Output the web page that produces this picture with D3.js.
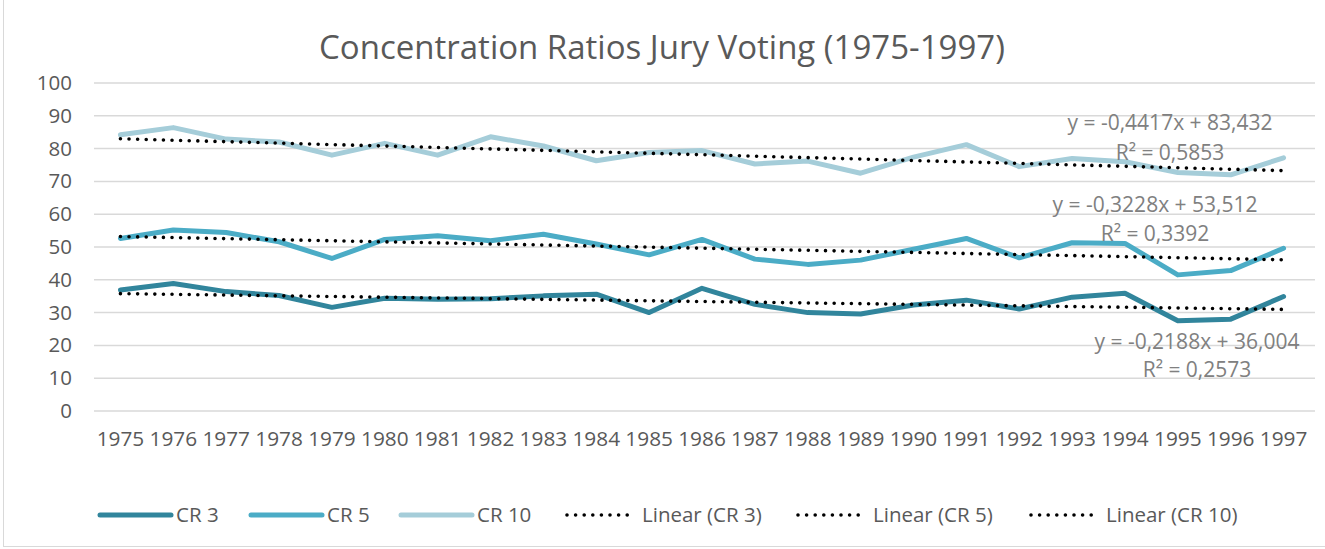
<!DOCTYPE html>
<html>
<head>
<meta charset="utf-8">
<script src="https://cdn.jsdelivr.net/npm/d3@7"></script>
<style>
  body { margin: 0; background: #fff; }
  text { font-family: "Open Sans", "Noto Sans", sans-serif; }
</style>
</head>
<body>
<svg id="chart" width="1325" height="549"></svg>
<script>
// values
var years = d3.range(1975, 1998).map(String);
var cr3 = [36.9, 38.9, 36.4, 35.2, 31.6, 34.4, 34.1, 34.2, 35.1, 35.6, 30.0, 37.4, 32.5, 30.0, 29.6, 32.3, 33.8, 31.1, 34.7, 35.9, 27.5, 28.0, 34.9];
var cr5 = [52.6, 55.2, 54.4, 51.6, 46.5, 52.3, 53.4, 51.9, 53.9, 50.9, 47.6, 52.3, 46.3, 44.7, 46.0, 49.3, 52.6, 46.7, 51.3, 51.1, 41.5, 42.8, 49.6];
var cr10 = [84.2, 86.4, 82.9, 82.0, 78.0, 81.6, 78.0, 83.6, 80.8, 76.3, 78.8, 79.4, 75.3, 76.2, 72.5, 77.4, 81.2, 74.5, 77.0, 76.0, 72.7, 72.0, 77.2];

// linear trend lines as printed on the chart (x = 1..23)
var seriesNames = ["CR 3", "CR 5", "CR 10"];
var slopes = [-0.2188, -0.3228, -0.4417];
var intercepts = [36.004, 53.512, 83.432];
var rSquared = [0.2573, 0.3392, 0.5853];
var yTicks = [0, 10, 20, 30, 40, 50, 60, 70, 80, 90, 100];

var colors = ["#31859c", "#4bacc6", "#a5cdd9"];

var svg = d3.select("#chart");

var plotLeft = 94, plotRight = 1310, plotTop = 83, plotBottom = 411;

var x = d3.scaleBand().domain(years).range([plotLeft, plotRight]).padding(0);
var cx = function(yr) { return x(yr) + x.bandwidth() / 2; };
var y = d3.scaleLinear().domain([0, 100]).range([plotBottom, plotTop]);

// outer border
svg.append("rect")
  .attr("x", 3.5).attr("y", -2)
  .attr("width", 1330).attr("height", 548.5)
  .attr("fill", "none").attr("stroke", "#d9d9d9").attr("stroke-width", 1);

// title
svg.append("text")
  .attr("x", 662).attr("y", 59)
  .attr("text-anchor", "middle")
  .attr("font-size", 33)
  .attr("fill", "#595959")
  .text("Concentration Ratios Jury Voting (1975-1997)");

// grid lines
svg.append("g").selectAll("line")
  .data(yTicks)
  .enter().append("line")
    .attr("x1", plotLeft).attr("x2", plotRight + 5)
    .attr("y1", function(d) { return y(d); })
    .attr("y2", function(d) { return y(d); })
    .attr("stroke", "#d9d9d9").attr("stroke-width", 1.5);

// y axis labels
var yAxis = d3.axisLeft(y).tickValues(yTicks).tickSize(0).tickPadding(22);
var gy = svg.append("g").attr("transform", "translate(" + plotLeft + ",0)").call(yAxis);
gy.select(".domain").remove();
gy.selectAll("text").attr("font-size", 20.5).attr("fill", "#595959")
  .style("font-family", '"Open Sans", sans-serif');

// x axis labels
var xAxis = d3.axisBottom(x).tickSize(0).tickPadding(20);
var gx = svg.append("g").attr("transform", "translate(0," + plotBottom + ")").call(xAxis);
gx.select(".domain").remove();
gx.selectAll("text").attr("font-size", 20.8).attr("fill", "#595959")
  .style("font-family", '"Open Sans", sans-serif');

var line = d3.line()
  .x(function(d, i) { return cx(years[i]); })
  .y(function(d) { return y(d); });

var data = [cr3, cr5, cr10];

// series lines
data.forEach(function(vals, k) {
  svg.append("path")
    .attr("d", line(vals))
    .attr("fill", "none")
    .attr("stroke", colors[k])
    .attr("stroke-width", 5)
    .attr("stroke-linejoin", "round")
    .attr("stroke-linecap", "round");
});

// trend lines
data.forEach(function(vals, k) {
  var trend = years.map(function(yr, i) { return slopes[k] * (i + 1) + intercepts[k]; });
  svg.append("path")
    .attr("d", line(trend))
    .attr("fill", "none")
    .attr("stroke", "#000")
    .attr("stroke-width", 3.6)
    .attr("stroke-linecap", "round")
    .attr("stroke-dasharray", "0 8.6");
});

// trend equation labels
function fmt(v) { return String(v).replace(".", ","); }
var labelPos = [[1197, 349, 377], [1155, 212, 241], [1170, 130, 160]];
data.forEach(function(vals, k) {
  var p = labelPos[k];
  var eq = "y = " + fmt(slopes[k]) + "x + " + fmt(intercepts[k]);
  svg.append("text")
    .attr("x", p[0]).attr("y", p[1])
    .attr("text-anchor", "middle")
    .attr("font-size", 21)
    .attr("fill", "#808080")
    .text(eq);
  svg.append("text")
    .attr("x", p[0]).attr("y", p[2])
    .attr("text-anchor", "middle")
    .attr("font-size", 21)
    .attr("fill", "#808080")
    .text("R\u00b2 = " + fmt(rSquared[k]));
});

// legend
var legendItems = seriesNames.map(function(n, k) { return { name: n, color: colors[k], dotted: false }; })
  .concat(seriesNames.map(function(n) { return { name: "Linear (" + n + ")", color: "#000", dotted: true }; }));
var legendX = [100, 251, 401, 567, 798, 1031];
var ly = 515;

var leg = svg.append("g").selectAll("g")
  .data(legendItems)
  .enter().append("g")
    .attr("transform", function(d, i) { return "translate(" + legendX[i] + "," + ly + ")"; });

leg.append("line")
  .attr("x1", 0).attr("x2", function(d) { return d.dotted ? 63 : 71; })
  .attr("y1", 0).attr("y2", 0)
  .attr("stroke", function(d) { return d.color; })
  .attr("stroke-width", function(d) { return d.dotted ? 3.6 : 5; })
  .attr("stroke-linecap", "round")
  .attr("stroke-dasharray", function(d) { return d.dotted ? "0 8.6" : null; });

leg.append("text")
  .attr("x", function(d) { return d.dotted ? 75 : 76; })
  .attr("y", 7)
  .attr("font-size", 20.5)
  .attr("fill", "#595959")
  .text(function(d) { return d.name; });
</script>
</body>
</html>
